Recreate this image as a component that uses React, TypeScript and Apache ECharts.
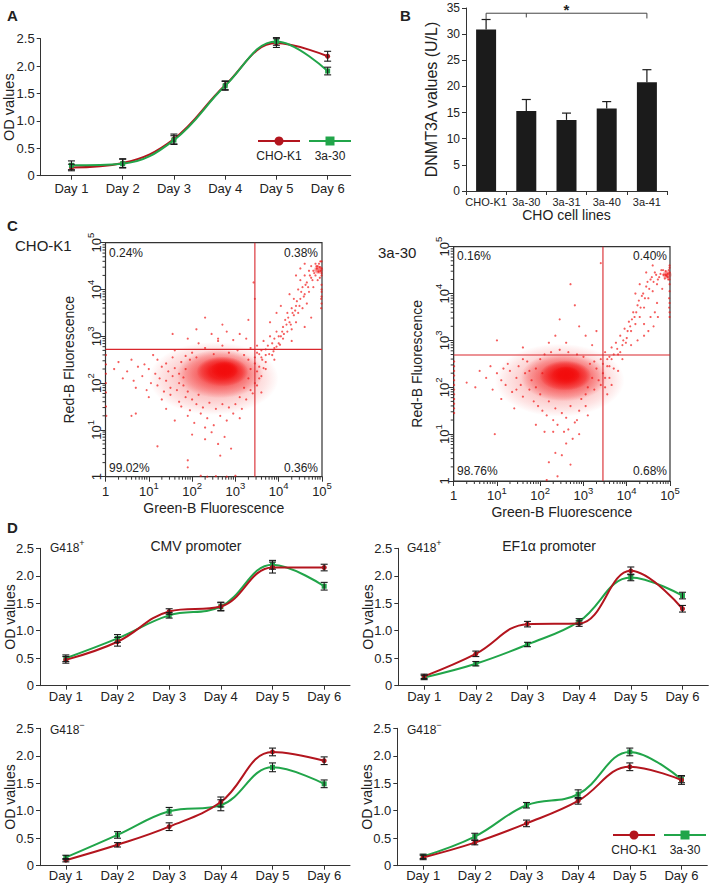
import React, { useEffect, useRef } from "react";
import * as echarts from "echarts";

// ---------------- data ----------------
const dayLabels = ["Day 1", "Day 2", "Day 3", "Day 4", "Day 5", "Day 6"];
const dayIndex = [1, 2, 3, 4, 5, 6];
const odTicks = [0, 0.5, 1, 1.5, 2, 2.5];
const seriesNames = ["CHO-K1", "3a-30"];

// Panel A
const aCho = [0.15, 0.23, 0.67, 1.65, 2.42, 2.18];
const aChoErr = [0.06, 0.08, 0.09, 0.08, 0.08, 0.09];
const a330 = [0.19, 0.22, 0.65, 1.64, 2.45, 1.91];
const a330Err = [0.08, 0.08, 0.08, 0.08, 0.07, 0.07];

// Panel B
const barCats = ["CHO-K1", "3a-30", "3a-31", "3a-40", "3a-41"];
const barVals = [30.9, 15.3, 13.6, 15.8, 20.8];
const barErr = [1.9, 2.2, 1.3, 1.3, 2.4];
const sigLevel = 34;
const sigDrops = [[0, 32.8], [1, 33.2], [4, 33.0]];
const sigStarAt = 2;

// Panel C  (log10 Green-B, log10 Red-B)
const cTitles = ["CHO-K1", "3a-30"];
const c1Pct = ["0.24%", "0.38%", "99.02%", "0.36%"];
const c2Pct = ["0.16%", "0.40%", "98.76%", "0.68%"];
const c1Gate = [3.45, 2.72];
const c2Gate = [3.45, 2.69];
// density areas: [log x, log y, half-width (decades), half-height (decades), density]
const c1Core = [
  [2.5, 2.1, 1.5, 0.78, 0.28],
  [2.65, 2.2, 1.0, 0.52, 0.6],
  [2.7, 2.25, 0.6, 0.32, 0.9],
  [2.75, 2.28, 0.32, 0.19, 1.0],
  [4.92, 4.42, 0.12, 0.1, 0.6],
];
const c2Core = [
  [2.45, 2.15, 1.5, 0.78, 0.28],
  [2.55, 2.22, 1.0, 0.52, 0.6],
  [2.58, 2.25, 0.6, 0.32, 0.9],
  [2.6, 2.27, 0.32, 0.18, 1.0],
  [4.93, 4.4, 0.12, 0.1, 0.6],
];
const c1Dots = [
  [1.1,2.6],[1.6,2.7],[2.0,2.65],[2.3,2.75],[2.5,2.62],[2.7,2.8],[2.85,2.65],[3.05,2.7],[3.2,2.6],[3.35,2.75],[3.5,2.65],[2.15,2.85],[2.6,2.9],[1.85,2.58],
  [0.3,2.45],[0.6,2.5],[0.9,2.4],[1.2,2.5],[1.4,2.42],[1.55,2.55],[1.75,2.45],[1.95,2.5],[2.1,2.55],[3.3,2.5],[3.45,2.42],[3.6,2.55],[3.7,2.45],[3.85,2.6],[3.55,2.35],
  [0.2,2.3],[0.5,2.25],[0.75,2.35],[1.0,2.3],[1.15,2.2],[1.3,2.35],[1.45,2.25],[1.6,2.32],[1.7,2.2],[1.85,2.3],[3.35,2.3],[3.5,2.25],[3.65,2.32],
  [0.4,2.1],[0.65,2.05],[0.85,2.15],[1.05,2.0],[1.25,2.1],[1.4,2.05],[1.55,2.15],[1.7,2.0],[1.8,2.12],[3.3,2.1],[3.45,2.0],[3.6,2.15],
  [0.7,1.9],[0.95,1.85],[1.2,1.95],[1.35,1.82],[1.5,1.9],[1.65,1.85],[1.8,1.95],[1.9,1.82],[3.2,1.9],[3.35,1.85],[3.5,1.95],
  [1.0,1.7],[1.3,1.65],[1.5,1.75],[1.7,1.6],[1.85,1.7],[2.0,1.65],[2.15,1.75],[3.1,1.7],[3.25,1.65],[3.4,1.78],
  [1.4,1.45],[1.75,1.5],[1.95,1.42],[2.1,1.55],[2.25,1.48],[2.4,1.58],[2.55,1.45],[2.7,1.55],[2.85,1.48],[3.0,1.55],[3.15,1.45],
  [1.6,1.2],[1.9,1.3],[2.05,1.15],[2.2,1.35],[2.35,1.25],[2.5,1.1],[2.65,1.3],[2.8,1.2],[2.95,1.35],[3.1,1.25],[2.3,1.05],
  [1.2,0.65],[2.0,0.9],[2.3,0.8],[2.45,0.95],[2.6,0.7],[2.75,0.85],[2.9,0.6],[2.65,0.45],[0.7,1.35],[0.6,1.3],[1.9,0.35],
  [2.2,0.02],[2.35,0.0],[2.55,0.01],[2.8,0.0],[3.0,0.02],[1.9,0.2],
  [0.01,1.5],[0.01,1.8],[0.01,2.0],[0.01,2.2],[0.01,2.4],[0.02,1.3],[0.01,2.6],
  [2.3,3.4],[2.45,3.05],[1.55,3.05],[2.6,2.95],[2.8,3.1],[2.95,2.92],[3.1,3.05],[3.25,2.95],[3.3,3.35],[3.45,3.8],[3.42,4.15],[2.1,3.15],[1.9,2.95],[2.7,3.25],
  [3.5,2.8],[3.6,2.7],[3.65,2.9],[3.75,2.8],[3.8,3.0],[3.9,2.75],[3.9,2.95],[3.95,3.1],[4.0,2.85],[4.05,3.0],[4.1,3.2],[4.1,2.95],[4.15,3.35],[4.2,3.1],[4.2,3.5],[4.25,3.3],
  [4.3,3.6],[4.3,3.15],[4.35,3.45],[4.35,3.8],[4.4,3.3],[4.4,3.65],[4.45,4.0],[4.45,3.5],[4.5,3.8],[4.5,4.2],[4.55,3.6],[4.55,4.05],[4.6,3.9],[4.6,4.3],[4.65,3.7],[4.65,4.15],
  [4.7,4.4],[4.7,3.95],[4.75,4.25],[4.75,4.5],[4.8,4.05],[4.8,4.4],[4.85,4.3],[4.85,4.55],[4.88,4.45],[4.9,4.2],[4.9,4.5],[4.92,4.38],[4.95,4.48],[4.95,4.25],[4.97,4.4],
  [4.98,3.6],[4.98,3.8],[4.99,3.95],[4.99,4.1],[4.99,4.6],[4.99,4.3],[4.6,4.55],[4.5,4.45],[4.4,4.3],[3.8,3.3],[3.95,3.5],[4.05,3.65],[4.25,3.9],[3.7,2.6],[4.3,2.9],[4.6,3.2],[4.75,3.4],
  [3.55,2.1],[3.7,2.3],[3.9,2.5],[3.6,1.8],
  [3.45,2.55],[3.55,2.62],[3.62,2.5],[3.7,2.72],[3.78,2.62],[3.85,2.85],[3.88,2.68],[3.95,2.78],[4.0,3.0],[4.03,2.82],[4.08,3.1],[4.12,3.05],[4.18,3.25],[4.22,3.4],[4.28,3.25],
  [4.32,3.5],[4.38,3.55],[4.42,3.75],[4.48,3.65],[4.52,3.95],[4.58,3.85],[4.62,4.1],[4.68,4.05],[4.72,4.3],[4.78,4.2],[4.82,4.35],[4.87,4.5],[4.93,4.55],[4.96,4.6],
  [4.99,4.45],[4.99,4.35],[4.99,3.7],[4.99,3.85],[4.99,4.0],
];
const c2Dots = [
  [0.5,2.0],[0.75,2.2],[0.9,1.95],[1.0,2.3],[1.1,2.15],[1.2,2.05],[1.3,2.35],[1.35,1.9],[1.45,2.2],[1.5,2.45],[1.55,2.05],[1.6,1.8],[1.65,2.3],[1.7,2.55],[1.75,1.95],[1.8,2.15],
  [1.85,1.7],[1.9,2.4],[1.95,1.6],[2.0,2.6],[2.0,1.85],[2.05,1.5],[2.1,2.7],[2.15,1.4],[2.2,1.7],[2.25,2.75],[2.3,1.3],[2.35,1.55],[2.4,1.2],[2.45,2.8],[2.5,1.45],[2.55,1.05],
  [2.6,1.35],[2.65,2.75],[2.7,1.6],[2.75,0.9],[2.8,1.25],[2.85,2.7],[2.9,1.5],[2.95,1.75],[3.0,2.65],[3.05,1.85],[3.1,2.0],[3.15,2.5],[3.2,2.2],[3.25,1.95],[3.3,2.4],[3.35,2.15],
  [3.4,2.6],[3.45,2.3],[3.5,2.0],[3.55,2.45],[3.6,2.2],[3.65,2.6],[3.7,2.4],[0.6,2.35],[0.3,2.1],[1.1,1.75],[1.4,1.55],[2.1,1.05],[2.35,0.6],[2.6,0.8],[2.9,1.0],[3.1,1.4],
  [2.2,0.4],[1.9,1.2],[2.5,0.55],[0.95,1.0],[2.7,0.35],[2.4,0.1],[2.15,0.02],
  [1.25,2.5],[1.6,2.6],[1.9,2.0],[1.75,2.35],[2.05,2.3],[1.45,1.95],[1.15,2.4],[0.85,2.45],[3.25,2.55],[3.4,2.05],[3.05,1.6],[2.85,1.3],[2.3,1.05],[2.65,1.1],
  [2.7,4.2],[2.8,3.75],[2.45,3.45],[2.9,3.3],[2.6,2.95],[2.2,2.95],[3.05,3.1],[3.2,2.9],[3.3,3.2],[3.4,4.65],[1.0,3.0],[1.6,2.85],[2.35,3.1],
  [3.5,2.75],[3.6,2.65],[3.65,2.85],[3.75,2.95],[3.8,2.7],[3.85,3.1],[3.9,2.9],[3.95,3.25],[4.0,3.05],[4.05,3.4],[4.1,3.2],[4.15,3.6],[4.2,3.35],[4.25,3.75],[4.3,3.5],[4.35,3.95],
  [4.4,3.7],[4.45,4.15],[4.5,3.9],[4.55,4.3],[4.6,4.05],[4.62,3.3],[4.5,3.2],[4.65,4.45],[4.7,4.2],[4.72,3.5],[4.75,4.35],[4.8,4.5],[4.82,4.1],[4.85,4.4],[4.88,4.32],[4.9,4.48],
  [4.92,4.38],[4.95,4.42],[4.96,4.3],[4.97,4.5],[4.98,3.7],[4.98,3.9],[4.99,4.05],[4.99,4.2],[4.99,4.6],[4.99,3.5],[4.6,4.6],[4.45,4.45],[4.3,4.2],[4.2,4.0],[4.1,2.9],[4.4,3.1],
  [3.9,2.6],[4.25,3.0],
  [3.5,2.2],[3.65,2.05],[3.8,2.35],[3.55,1.85],
  [0.01,1.45],[0.01,1.55],[0.01,1.65],[0.01,1.75],[0.01,1.85],[0.01,1.95],[0.01,2.05],[0.01,2.15],[0.01,2.25],[0.01,2.35],[0.01,2.45],[0.01,2.55],
  [3.45,2.5],[3.55,2.6],[3.6,2.45],[3.7,2.7],[3.78,2.82],[3.85,2.75],[3.92,3.0],[3.98,2.95],[4.02,3.2],[4.08,3.3],[4.12,3.45],[4.18,3.5],[4.22,3.6],[4.28,3.85],[4.32,3.7],
  [4.38,4.0],[4.42,3.9],[4.48,4.25],[4.52,4.1],[4.58,4.35],[4.62,4.25],[4.68,4.4],[4.72,4.3],[4.78,4.42],[4.84,4.5],[4.9,4.4],[4.95,4.35],[4.99,4.45],[4.99,4.3],[4.99,3.8],
  [4.99,3.6],[4.99,4.55],[4.4,3.35],[4.55,3.5],[4.7,3.8],[4.65,3.6],
];

// Panel D
const dTitles = ["CMV promoter", "EF1\u03b1 promoter"];
const dConds = ["G418{s|+}", "G418{s|\u2212}"];
const d1Cho = [0.47, 0.80, 1.35, 1.44, 2.15, 2.15];
const d1ChoErr = [0.06, 0.08, 0.05, 0.07, 0.1, 0.06];
const d1330 = [0.50, 0.86, 1.28, 1.44, 2.20, 1.81];
const d1330Err = [0.06, 0.07, 0.05, 0.08, 0.08, 0.07];
const d2Cho = [0.17, 0.58, 1.12, 1.13, 2.09, 1.40];
const d2ChoErr = [0.04, 0.05, 0.05, 0.05, 0.07, 0.06];
const d2330 = [0.15, 0.40, 0.75, 1.17, 1.97, 1.64];
const d2330Err = [0.04, 0.04, 0.04, 0.05, 0.06, 0.06];
const d3Cho = [0.10, 0.38, 0.71, 1.16, 2.07, 1.91];
const d3ChoErr = [0.03, 0.04, 0.07, 0.09, 0.07, 0.07];
const d3330 = [0.15, 0.56, 0.99, 1.10, 1.79, 1.49];
const d3330Err = [0.04, 0.06, 0.07, 0.1, 0.08, 0.07];
const d4Cho = [0.15, 0.42, 0.77, 1.18, 1.80, 1.56];
const d4ChoErr = [0.04, 0.04, 0.06, 0.06, 0.07, 0.08];
const d4330 = [0.17, 0.53, 1.10, 1.30, 2.07, 1.57];
const d4330Err = [0.04, 0.06, 0.05, 0.08, 0.07, 0.06];

// ---------------- styles ----------------
const FONT = '"Liberation Sans", Arial, Helvetica, sans-serif';
const TXT = "#222";
const AX = "#333";
const RED = "#b3151e";
const GREEN = "#21a54a";
const DOT = "rgba(240,18,18,0.85)";
const GATE = "#d9262c";

const supRich = {
  b: { fontSize: 13, color: TXT, fontFamily: FONT, lineHeight: 17, verticalAlign: "bottom" },
  s: { fontSize: 9.5, color: TXT, fontFamily: FONT, lineHeight: 10, verticalAlign: "top" },
};
const powLabel = (v: number) => {
  const n = Math.round(Math.log10(v));
  return n === 0 ? "{b|1}" : "{b|10}{s|" + n + "}";
};

const baseGrid = { containLabel: false, outerBoundsMode: "none" };

function lineX(grid: number, min: number, max: number, margin: number) {
  return {
    type: "value", gridIndex: grid, min, max,
    axisLine: { show: true, lineStyle: { color: AX, width: 1 } },
    axisTick: { show: true, customValues: dayIndex, length: 4, lineStyle: { color: AX } },
    axisLabel: { customValues: dayIndex, formatter: (v: number) => dayLabels[Math.round(v) - 1], fontSize: 13, color: TXT, fontFamily: FONT, margin },
    splitLine: { show: false },
  };
}
function lineY(grid: number, nameSize: number, gap: number) {
  return {
    type: "value", gridIndex: grid, min: odTicks[0], max: odTicks[odTicks.length - 1], interval: 0.5,
    axisLine: { show: true, lineStyle: { color: AX, width: 1 } },
    axisTick: { show: true, length: 4, lineStyle: { color: AX } },
    axisLabel: { formatter: (v: number) => (v === 0 ? "0" : v.toFixed(1)), fontSize: 13, color: TXT, fontFamily: FONT, margin: 6 },
    splitLine: { show: false },
    name: "OD values", nameLocation: "middle", nameGap: gap, nameMoveOverlap: false,
    nameTextStyle: { fontSize: nameSize, lineHeight: nameSize, color: TXT, fontFamily: FONT },
  };
}
function logAxis(grid: number, isY: boolean, name: string) {
  return {
    type: "log", gridIndex: grid, min: 1, max: 100000, logBase: 10,
    axisLine: { show: true, lineStyle: { color: AX, width: 1 } },
    axisTick: { show: true, length: 5, lineStyle: { color: AX } },
    axisLabel: { formatter: powLabel, rich: supRich, margin: isY ? 3 : 4, rotate: isY ? 90 : 0, showMinLabel: true, showMaxLabel: true, hideOverlap: false },
    splitLine: { show: false },
    minorTick: { show: false },
    name, nameLocation: "middle", nameGap: isY ? 30 : 24,
    nameTextStyle: { fontSize: 14, color: TXT, fontFamily: FONT },
  };
}

const errRender = (params: any, api: any) => {
  const x = api.value(0), v = api.value(1), e = api.value(2);
  const p1 = api.coord([x, v + e]);
  const p2 = api.coord([x, v - e]);
  const w = 3.5;
  const st = { stroke: "#1a1a1a", lineWidth: 1.1 };
  return {
    type: "group",
    children: [
      { type: "line", shape: { x1: p1[0], y1: p1[1], x2: p2[0], y2: p2[1] }, style: st },
      { type: "line", shape: { x1: p1[0] - w, y1: p1[1], x2: p1[0] + w, y2: p1[1] }, style: st },
      { type: "line", shape: { x1: p2[0] - w, y1: p2[1], x2: p2[0] + w, y2: p2[1] }, style: st },
    ],
  };
};

function linePanel(ax: number, cho: number[], choErr: number[], g: number[], gErr: number[], greenTop: boolean) {
  const red = {
    type: "line", name: seriesNames[0], xAxisIndex: ax, yAxisIndex: ax,
    data: dayIndex.map((d, i) => [d, cho[i]]), smooth: 0.4,
    symbol: "circle", symbolSize: 5, lineStyle: { color: RED, width: 2 }, itemStyle: { color: RED },
    z: greenTop ? 3 : 4, silent: true,
  };
  const green = {
    type: "line", name: seriesNames[1], xAxisIndex: ax, yAxisIndex: ax,
    data: dayIndex.map((d, i) => [d, g[i]]), smooth: 0.4,
    symbol: "rect", symbolSize: 5, lineStyle: { color: GREEN, width: 2 }, itemStyle: { color: GREEN },
    z: greenTop ? 4 : 3, silent: true,
  };
  const e1 = { type: "custom", xAxisIndex: ax, yAxisIndex: ax, data: dayIndex.map((d, i) => [d, cho[i], choErr[i]]), renderItem: errRender, encode: { x: 0, y: 1 }, z: 5, silent: true };
  const e2 = { type: "custom", xAxisIndex: ax, yAxisIndex: ax, data: dayIndex.map((d, i) => [d, g[i], gErr[i]]), renderItem: errRender, encode: { x: 0, y: 1 }, z: 5, silent: true };
  return [red, green, e1, e2];
}

const minorVals: number[] = [];
for (let d = 0; d < 5; d++) for (let k = 2; k <= 9; k++) minorVals.push(k * Math.pow(10, d));

function flowSeries(ax: number, dots: number[][], core: number[][], gate: number[]) {
  const coreS = {
    type: "custom", xAxisIndex: ax, yAxisIndex: ax, silent: true, z: 2,
    data: core.map(([lx, ly, rx, ry, a]) => [Math.pow(10, lx), Math.pow(10, ly), rx, ry, a]),
    encode: { x: 0, y: 1 },
    renderItem: (params: any, api: any) => {
      const vx = api.value(0), vy = api.value(1), rx = api.value(2), ry = api.value(3), a = api.value(4);
      const lx = Math.log10(vx), ly = Math.log10(vy);
      const c = api.coord([vx, vy]);
      const px = api.coord([Math.pow(10, lx + rx), vy]);
      const py = api.coord([vx, Math.pow(10, ly + ry)]);
      return {
        type: "ellipse",
        shape: { cx: c[0], cy: c[1], rx: Math.abs(px[0] - c[0]), ry: Math.abs(c[1] - py[1]) },
        style: {
          fill: {
            type: "radial", x: 0.5, y: 0.5, r: 0.5,
            colorStops: [
              { offset: 0, color: `rgba(242,12,12,${a})` },
              { offset: 0.5, color: `rgba(242,12,12,${a * 0.85})` },
              { offset: 0.8, color: `rgba(242,12,12,${a * 0.4})` },
              { offset: 1, color: "rgba(242,12,12,0)" },
            ],
          },
        },
      };
    },
  };
  const dotS = {
    type: "scatter", xAxisIndex: ax, yAxisIndex: ax, silent: true, z: 3,
    data: dots.map(([x, y]) => [Math.pow(10, x), Math.pow(10, y)]),
    symbolSize: 2.2, itemStyle: { color: DOT },
  };
  const gateS = {
    type: "custom", xAxisIndex: ax, yAxisIndex: ax, silent: true, z: 5,
    data: [[Math.pow(10, gate[0]), Math.pow(10, gate[1])]], encode: { x: 0, y: 1 },
    renderItem: (params: any, api: any) => {
      const p = api.coord([api.value(0), api.value(1)]);
      const cs = params.coordSys;
      const st = { stroke: GATE, lineWidth: 1.1 };
      return {
        type: "group", children: [
          { type: "line", shape: { x1: p[0], y1: cs.y, x2: p[0], y2: cs.y + cs.height }, style: st },
          { type: "line", shape: { x1: cs.x, y1: p[1], x2: cs.x + cs.width, y2: p[1] }, style: st },
        ],
      };
    },
  };
  const mx = {
    type: "custom", xAxisIndex: ax, yAxisIndex: ax, silent: true, z: 6,
    data: minorVals.map((v) => [v, 1]), encode: { x: 0, y: 1 },
    renderItem: (params: any, api: any) => {
      const p = api.coord([api.value(0), 1]);
      return { type: "line", shape: { x1: p[0], y1: p[1], x2: p[0], y2: p[1] + 3 }, style: { stroke: AX, lineWidth: 1 } };
    },
  };
  const my = {
    type: "custom", xAxisIndex: ax, yAxisIndex: ax, silent: true, z: 6,
    data: minorVals.map((v) => [1, v]), encode: { x: 0, y: 1 },
    renderItem: (params: any, api: any) => {
      const p = api.coord([1, api.value(1)]);
      return { type: "line", shape: { x1: p[0] - 3, y1: p[1], x2: p[0], y2: p[1] }, style: { stroke: AX, lineWidth: 1 } };
    },
  };
  return [coreS, dotS, gateS, mx, my];
}

function txt(x: number, y: number, text: string, size: number, opts: any = {}) {
  return {
    type: "text", x, y, silent: true,
    style: { text, fontSize: size, fontFamily: FONT, fill: TXT, verticalAlign: "middle", align: opts.align || "left", fontWeight: opts.bold ? "bold" : "normal" },
  };
}
function legend(x0: number, y: number) {
  return [
    { type: "line", shape: { x1: x0, y1: y, x2: x0 + 42, y2: y }, style: { stroke: RED, lineWidth: 2 } },
    { type: "circle", shape: { cx: x0 + 21, cy: y, r: 4.5 }, style: { fill: RED } },
    { type: "line", shape: { x1: x0 + 51, y1: y, x2: x0 + 93, y2: y }, style: { stroke: GREEN, lineWidth: 2 } },
    { type: "rect", shape: { x: x0 + 67.5, y: y - 4.5, width: 9, height: 9 }, style: { fill: GREEN } },
    txt(x0 + 21, y + 15, seriesNames[0], 12, { align: "center" }),
    txt(x0 + 72, y + 15, seriesNames[1], 12, { align: "center" }),
  ];
}
const condRich = {
  b: { fontSize: 12, fontFamily: FONT, fill: TXT, color: TXT, lineHeight: 15, verticalAlign: "bottom" },
  s: { fontSize: 9, fontFamily: FONT, fill: TXT, color: TXT, lineHeight: 9, verticalAlign: "top" },
};
function condText(x: number, y: number, t: string) {
  return {
    type: "text", x, y, silent: true,
    style: { text: "{b|G418}" + t.replace("G418", ""), rich: condRich, fontFamily: FONT, fill: TXT, verticalAlign: "middle" },
  };
}

export default function App() {
  const ref = useRef<HTMLDivElement>(null);
  useEffect(() => {
    document.body.style.margin = "0";
    const chart = echarts.init(ref.current!, null, { renderer: "svg" });
    const grids = [
      { left: 40.7, top: 38.7, width: 310, height: 137 },
      { left: 466, top: 8, width: 201, height: 183 },
      { left: 105.5, top: 242.7, width: 216.5, height: 234, show: true, borderColor: AX, borderWidth: 1.2 },
      { left: 453.7, top: 246.7, width: 216.3, height: 234.3, show: true, borderColor: AX, borderWidth: 1.2 },
      { left: 40, top: 548.3, width: 310, height: 137.4 },
      { left: 398.3, top: 548.3, width: 310, height: 137.4 },
      { left: 40, top: 728.3, width: 310, height: 137.4 },
      { left: 397.3, top: 728.3, width: 310, height: 137.4 },
    ].map((g) => ({ ...baseGrid, ...g }));

    const xAxes: any[] = [
      lineX(0, 0.4, 6.45, 6),
      {
        type: "category", gridIndex: 1, data: barCats,
        axisLine: { show: true, lineStyle: { color: AX } },
        axisTick: { show: true, length: 4, lineStyle: { color: AX } },
        axisLabel: { fontSize: 11, color: TXT, fontFamily: FONT, margin: 5, interval: 0 },
        name: "CHO cell lines", nameLocation: "middle", nameGap: 16,
        nameTextStyle: { fontSize: 14, color: TXT, fontFamily: FONT },
      },
      logAxis(2, false, "Green-B Fluorescence"),
      logAxis(3, false, "Green-B Fluorescence"),
      lineX(4, 0.5, 6.5, 4), lineX(5, 0.5, 6.5, 4), lineX(6, 0.5, 6.5, 3), lineX(7, 0.5, 6.5, 3),
    ];
    const yAxes: any[] = [
      lineY(0, 14.5, 24),
      {
        type: "value", gridIndex: 1, min: 0, max: 35, interval: 5,
        axisLine: { show: true, lineStyle: { color: AX } },
        axisTick: { show: true, length: 4, lineStyle: { color: AX } },
        axisLabel: { fontSize: 12, color: TXT, fontFamily: FONT, margin: 6 },
        splitLine: { show: false },
        name: "DNMT3A values (U/L)", nameLocation: "middle", nameGap: 27,
        nameTextStyle: { fontSize: 16, color: TXT, fontFamily: FONT },
      },
      logAxis(2, true, "Red-B Fluorescence"),
      logAxis(3, true, "Red-B Fluorescence"),
      lineY(4, 14, 23), lineY(5, 14, 23), lineY(6, 14, 23), lineY(7, 14, 23),
    ];

    const barSeries: any[] = [
      { type: "bar", xAxisIndex: 1, yAxisIndex: 1, data: barVals, barWidth: 20, itemStyle: { color: "#1b1b1b" }, silent: true, z: 2 },
      {
        type: "custom", xAxisIndex: 1, yAxisIndex: 1, silent: true, z: 3,
        data: barVals.map((v, i) => [i, v, barErr[i]]), encode: { x: 0, y: 1 },
        renderItem: (params: any, api: any) => {
          const i = api.value(0), v = api.value(1), e = api.value(2);
          const b = api.coord([i, v]);
          const t = api.coord([i, v + e]);
          const st = { stroke: "#1b1b1b", lineWidth: 1.2 };
          return {
            type: "group", children: [
              { type: "line", shape: { x1: b[0], y1: b[1], x2: t[0], y2: t[1] }, style: st },
              { type: "line", shape: { x1: t[0] - 4.5, y1: t[1], x2: t[0] + 4.5, y2: t[1] }, style: st },
            ],
          };
        },
      },
      {
        type: "custom", xAxisIndex: 1, yAxisIndex: 1, silent: true, z: 3, clip: false,
        data: [[sigStarAt, sigLevel]], encode: { x: 0, y: 1 },
        renderItem: (params: any, api: any) => {
          const l = api.coord([sigDrops[0][0], sigLevel]);
          const r = api.coord([sigDrops[sigDrops.length - 1][0], sigLevel]);
          const st = { stroke: "#444", lineWidth: 1 };
          const kids: any[] = [{ type: "line", shape: { x1: l[0], y1: l[1], x2: r[0], y2: r[1] }, style: st }];
          sigDrops.forEach(([i, to]) => {
            const a = api.coord([i, sigLevel]);
            const b = api.coord([i, to]);
            kids.push({ type: "line", shape: { x1: a[0], y1: a[1], x2: b[0], y2: b[1] }, style: st });
          });
          const s = api.coord([api.value(0), api.value(1)]);
          kids.push({ type: "text", x: s[0], y: s[1] + 4, style: { text: "*", fontSize: 15, fontWeight: "bold", fontFamily: FONT, fill: TXT, align: "center", verticalAlign: "bottom" } });
          return { type: "group", children: kids };
        },
      },
    ];

    const series: any[] = [
      ...linePanel(0, aCho, aChoErr, a330, a330Err, true),
      ...barSeries,
      ...flowSeries(2, c1Dots, c1Core, c1Gate),
      ...flowSeries(3, c2Dots, c2Core, c2Gate),
      ...linePanel(4, d1Cho, d1ChoErr, d1330, d1330Err, false),
      ...linePanel(5, d2Cho, d2ChoErr, d2330, d2330Err, false),
      ...linePanel(6, d3Cho, d3ChoErr, d3330, d3330Err, false),
      ...linePanel(7, d4Cho, d4ChoErr, d4330, d4330Err, false),
    ];

    const graphic: any[] = [
      txt(7, 15, "A", 15, { bold: true }),
      txt(400, 15, "B", 15, { bold: true }),
      txt(7, 225, "C", 15, { bold: true }),
      txt(7, 527, "D", 15, { bold: true }),
      txt(15, 245, cTitles[0], 15),
      txt(378, 252, cTitles[1], 15),
      txt(109, 253, c1Pct[0], 12), txt(318, 253, c1Pct[1], 12, { align: "right" }),
      txt(109, 468, c1Pct[2], 12), txt(318, 468, c1Pct[3], 12, { align: "right" }),
      txt(457, 256, c2Pct[0], 12), txt(667, 256, c2Pct[1], 12, { align: "right" }),
      txt(457, 471, c2Pct[2], 12), txt(667, 471, c2Pct[3], 12, { align: "right" }),
      condText(50, 546, dConds[0]),
      condText(407, 546, dConds[0]),
      condText(50, 728, dConds[1]),
      condText(407, 728, dConds[1]),
      txt(196, 546, dTitles[0], 14, { align: "center" }),
      txt(549, 546, dTitles[1], 14, { align: "center" }),
      ...legend(258, 141),
      ...legend(613, 835),
    ];

    chart.setOption({
      animation: false,
      textStyle: { fontFamily: FONT },
      grid: grids,
      xAxis: xAxes,
      yAxis: yAxes,
      series,
      graphic,
    });
    return () => chart.dispose();
  }, []);
  return <div ref={ref} style={{ position: "absolute", left: 0, top: 0, width: 709, height: 884 }} />;
}
